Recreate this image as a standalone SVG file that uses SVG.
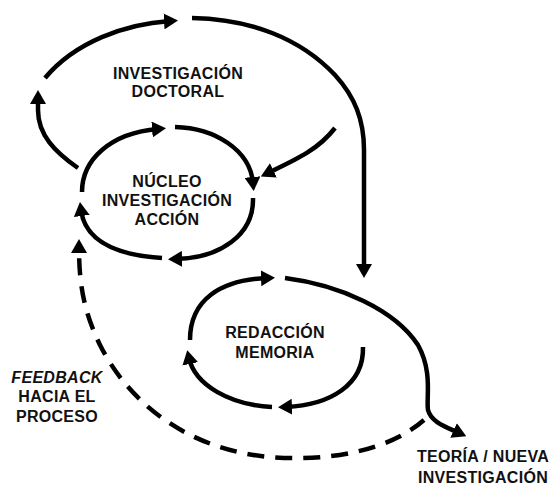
<svg xmlns="http://www.w3.org/2000/svg" width="552" height="489" viewBox="0 0 552 489">
<defs>
<style>
.lbl{font-family:"Liberation Sans",Arial,sans-serif;font-weight:bold;font-size:16px;fill:#111;text-anchor:middle;letter-spacing:0.3px}
.it{font-style:italic}
.ln{fill:none;stroke:#000;stroke-width:4.5;stroke-linecap:butt}
.dash{stroke-dasharray:17 11}
</style>
<marker id="ah" viewBox="0 0 14 16" markerWidth="14" markerHeight="16" refX="6" refY="8" orient="auto" markerUnits="userSpaceOnUse">
<path d="M0,0 L14,8 L0,16 Z" fill="#000"/>
</marker>
</defs>
<rect width="552" height="489" fill="#fff"/>
<g id="connectors">
<path class="ln" d="M45,78 C75,42 125,24 170,21" marker-end="url(#ah)"/>
<path class="ln" d="M192,18 C250,19 300,38 335,75 C355,97 364,120 364,150 L364,270" marker-end="url(#ah)"/>
<path class="ln" d="M78,168 C55,152 38,135 38,110 L38,98" marker-end="url(#ah)"/>
<path class="ln" d="M82,192 C82,160 110,133 158,129" marker-end="url(#ah)"/>
<path class="ln" d="M175,127 C215,128 250,150 253,183" marker-end="url(#ah)"/>
<path class="ln" d="M253,198 C254,235 220,258 176,259" marker-end="url(#ah)"/>
<path class="ln" d="M162,258 C115,255 85,240 81,210" marker-end="url(#ah)"/>
<path class="ln" d="M335,128 C318,150 295,160 268,173" marker-end="url(#ah)"/>
<path class="ln" d="M190,340 C190,300 220,280 267,278" marker-end="url(#ah)"/>
<path class="ln" d="M285,278 C340,285 395,310 418,345 C433,372 426,398 428,410 C431,422 446,427 459,433" marker-end="url(#ah)"/>
<path class="ln" d="M363,347 C364,385 330,405 286,407" marker-end="url(#ah)"/>
<path class="ln" d="M272,407 C230,405 195,385 189,358" marker-end="url(#ah)"/>
<path class="ln dash" d="M424,420 C390,450 330,462 270,457 C190,450 130,405 100,345 C84,312 79,285 79,247" marker-end="url(#ah)"/>
</g>
<g id="investigacion-doctoral">
<text class="lbl" x="178" y="79">INVESTIGACIÓN</text>
<text class="lbl" x="178" y="97">DOCTORAL</text>
</g>
<g id="nucleo">
<text class="lbl" x="167" y="187">NÚCLEO</text>
<text class="lbl" x="167" y="206">INVESTIGACIÓN</text>
<text class="lbl" x="167" y="225">ACCIÓN</text>
</g>
<g id="redaccion">
<text class="lbl" x="275" y="338">REDACCIÓN</text>
<text class="lbl" x="275" y="358">MEMORIA</text>
</g>
<g id="feedback">
<text class="lbl it" x="57" y="383">FEEDBACK</text>
<text class="lbl" x="57" y="402">HACIA EL</text>
<text class="lbl" x="57" y="422">PROCESO</text>
</g>
<g id="teoria">
<text class="lbl" x="483" y="462">TEORÍA / NUEVA</text>
<text class="lbl" x="483" y="483">INVESTIGACIÓN</text>
</g>
</svg>
